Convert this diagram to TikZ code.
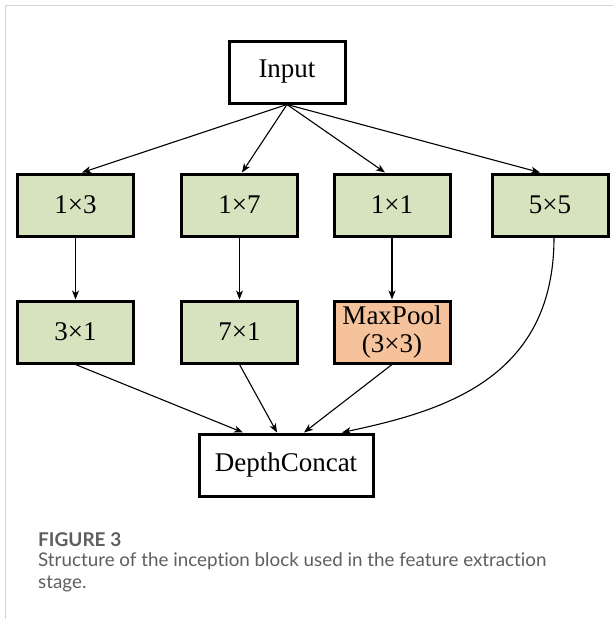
\documentclass[tikz,border=0pt]{standalone}
\usepackage{fontspec}
\setmainfont{Liberation Serif}
\newfontfamily\capfont[Ligatures=NoCommon]{Lato}
\usetikzlibrary{arrows.meta}
\definecolor{boxgreen}{HTML}{D6E3BE}
\definecolor{boxorange}{HTML}{F5C29B}
\definecolor{framegray}{HTML}{D3D3D3}
\definecolor{capgray}{HTML}{5F5F5F}

\begin{document}
\begin{tikzpicture}[x=1pt,y=-1pt,
  block/.style={draw=black, line width=3pt, minimum width=116pt, minimum height=62pt,
    inner sep=0pt, font=\fontsize{27}{28.5}\selectfont, align=center},
  conv/.style={block, fill=boxgreen},
  pool/.style={block, fill=boxorange},
  link/.style={line width=1.1pt, -{Stealth[length=9pt,width=7pt,inset=2.5pt]}},
  captitle/.style={anchor=base west, inner sep=0pt, text=capgray,
    font=\capfont\bfseries\fontsize{19}{22}\selectfont},
  captext/.style={anchor=base west, inner sep=0pt, text=capgray,
    font=\capfont\fontsize{18.8}{22}\selectfont},
]
\useasboundingbox (0,0) rectangle (613,619);
\fill[white] (0,0) rectangle (613,619);
% panel frame
\draw[framegray, line width=1.5pt] (5.5,619) -- (5.5,5.5) -- (613,5.5);

% blocks
\node[block] (in) at (287,72) {Input};
\node[conv] (c13) at (75.5,205) {1×3};
\node[conv] (c17) at (239.5,205) {1×7};
\node[conv] (c11) at (392,205) {1×1};
\node[conv] (c55) at (550,205) {5×5};
\node[conv] (c31) at (75.5,332) {3×1};
\node[conv] (c71) at (239.5,332) {7×1};
\node[pool] (mp) at (392,332) {MaxPool\\(3×3)};
\node[block, minimum width=174pt] (dc) at (286,465) {DepthConcat};

% fan-out from the input
\draw[link] (in.south) -- ([xshift=6.5pt]c13.north);
\draw[link] (in.south) -- ([xshift=2.5pt]c17.north);
\draw[link] (in.south) -- ([xshift=-7pt]c11.north);
\draw[link] (in.south) -- ([xshift=-10pt]c55.north);

% second stage
\draw[link] (c13.south) -- (c31.north);
\draw[link] (c17.south) -- (c71.north);
\draw[link] (c11.south) -- (mp.north);

% merge into the concatenation
\draw[link] (c31.south) -- ([xshift=-43pt]dc.north);
\draw[link] (c71.south) -- ([xshift=-9pt]dc.north);
\draw[link] (mp.south) -- ([xshift=18pt]dc.north);
\draw[link] ([xshift=4pt]c55.south) .. controls +(0,143) and +(98,-21) .. ([xshift=56pt]dc.north);

% caption
\node[captitle] (fig) at (38,546) {FIGURE 3};
\node[captext] (cap1) at (38,566) {Structure of the inception block used in the feature extraction};
\node[captext] (cap2) at (38,588) {stage.};
\end{tikzpicture}
\end{document}
